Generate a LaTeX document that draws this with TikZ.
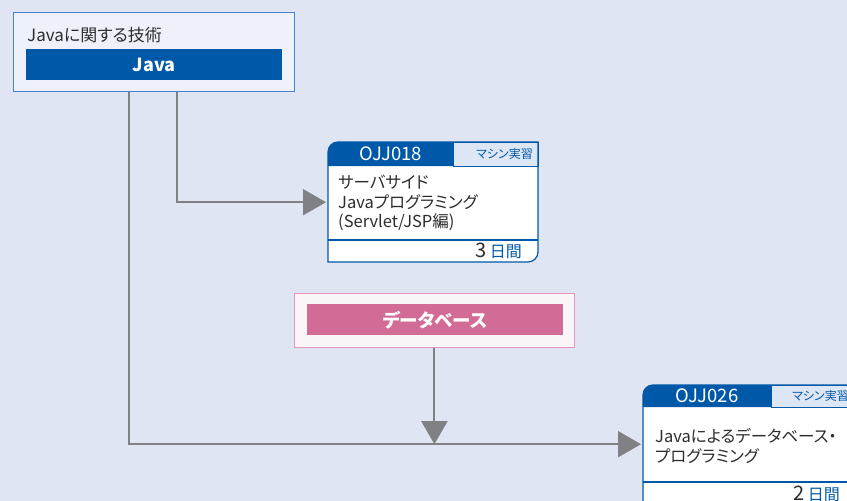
\documentclass[tikz,border=0pt]{standalone}
\usepackage{fontspec}
\setmainfont{Noto Sans CJK JP}[RawFeature=+palt]
\usetikzlibrary{arrows.meta,positioning}
\definecolor{bgblue}{RGB}{223,229,242}
\definecolor{jvblue}{RGB}{0,89,168}
\definecolor{grpline}{RGB}{70,130,205}
\definecolor{grpfill}{RGB}{238,241,250}
\definecolor{tagfill}{RGB}{221,230,244}
\definecolor{dbpink}{RGB}{210,108,151}
\definecolor{dbline}{RGB}{228,150,190}
\definecolor{dbfill}{RGB}{250,245,247}
\definecolor{conngray}{RGB}{128,129,132}
\definecolor{txtgray}{RGB}{45,45,45}

\begin{document}
\begin{tikzpicture}[x=1pt, y=1pt,
  conn/.style={conngray, line width=2pt, -{Triangle[length=23pt,width=26pt]}},
  grpbox/.style={draw=grpline, fill=grpfill, line width=0.8pt, anchor=north west, inner sep=0pt},
  bar/.style={anchor=north west, inner sep=0pt, text=white, font=\fontsize{18}{21}\selectfont\bfseries,
              minimum width=256pt, minimum height=31pt},
  cardframe/.style={anchor=north west, inner sep=0pt, minimum width=210pt, minimum height=120pt},
  cardtext/.style={anchor=west, inner sep=0pt, text width=205pt, align=left, text=txtgray,
                   font=\fontsize{16.5}{19.5}\selectfont},
  idtext/.style={text=white, font=\fontsize{18.5}{21}\selectfont},
  tagtext/.style={anchor=east, inner sep=0pt, text=jvblue, font=\fontsize{12}{14}\selectfont},
  daytext/.style={anchor=east, inner sep=0pt, text=txtgray, font=\fontsize{20}{22}\selectfont}]
% canvas
\useasboundingbox (0,0) rectangle (847,-501);
\clip (0,0) rectangle (847,-501);
\fill[bgblue] (0,0) rectangle (847,-501);

% Java group
\node[grpbox, minimum width=281pt, minimum height=79pt] (javagrp) at (13,-12) {};
\node[anchor=west, inner sep=0pt, text=txtgray, font=\fontsize{17}{20}\selectfont] (javattl) at (27,-35) {Javaに関する技術};
\node[bar, fill=jvblue] (javabar) at (26,-49) {Java};

% Database group
\node[grpbox, draw=dbline, fill=dbfill, minimum width=280pt, minimum height=54pt] (dbgrp) at (294,-293) {};
\node[bar, fill=dbpink, font=\fontsize{18.5}{21}\selectfont\bfseries] (dbbar) at (307,-304) {データベース};

% OJJ018 card
\node[cardframe] (card018) at (328,-142) {};
\fill[white] (328,-262) -- (328,-152) arc[start angle=180, end angle=90, radius=10] -- (538,-142)
  -- (538,-252) arc[start angle=0, end angle=-90, radius=10] -- cycle;
\fill[jvblue] (328,-166) -- (328,-152) arc[start angle=180, end angle=90, radius=10] -- (453,-142) -- (453,-166) -- cycle;
\draw[jvblue, fill=tagfill] (453,-142) rectangle (538,-166);
\draw[jvblue, line width=1.2pt] (328,-240) -- (538,-240);
\draw[jvblue, line width=1.2pt] (328,-262) -- (328,-152) arc[start angle=180, end angle=90, radius=10] -- (538,-142)
  -- (538,-252) arc[start angle=0, end angle=-90, radius=10] -- cycle;
\node[idtext] (id018) at (390.5,-154) {OJJ018};
\node[tagtext] (tag018) at (533,-154) {マシン実習};
\node[cardtext] (txt018) at (338,-203) {サーバサイド\\Javaプログラミング\\(Servlet/JSP編)};
\node[daytext] (day018) at (522,-251) {3\,{\color{jvblue}\fontsize{16}{18}\selectfont 日間}};

% OJJ026 card
\node[cardframe, minimum height=118pt] (card026) at (643,-385) {};
\fill[white] (643,-503) -- (643,-395) arc[start angle=180, end angle=90, radius=10] -- (853,-385)
  -- (853,-493) arc[start angle=0, end angle=-90, radius=10] -- cycle;
\fill[jvblue] (643,-407) -- (643,-395) arc[start angle=180, end angle=90, radius=10] -- (771,-385) -- (771,-407) -- cycle;
\draw[jvblue, fill=tagfill] (771,-385) rectangle (853,-407);
\draw[jvblue, line width=1.2pt] (643,-482) -- (853,-482);
\draw[jvblue, line width=1.2pt] (643,-503) -- (643,-395) arc[start angle=180, end angle=90, radius=10] -- (853,-385)
  -- (853,-493) arc[start angle=0, end angle=-90, radius=10] -- cycle;
\node[idtext] (id026) at (707,-396) {OJJ026};
\node[tagtext] (tag026) at (849,-396) {マシン実習};
\node[cardtext] (txt026) at (655,-446) {Javaによるデータベース・\\プログラミング};
\node[daytext] (day026) at (840,-494) {2\,{\color{jvblue}\fontsize{16}{18}\selectfont 日間}};

% connectors
\coordinate (dbjoin) at (dbgrp.south |- card026.west);
\draw[conn] ([xshift=164pt]javagrp.south west) |- ([xshift=-2pt]card018.west);
\draw[conn] ([xshift=116pt]javagrp.south west) |- ([xshift=-2pt]card026.west);
\draw[conn] (dbgrp.south) -- (dbjoin);
\end{tikzpicture}
\end{document}
